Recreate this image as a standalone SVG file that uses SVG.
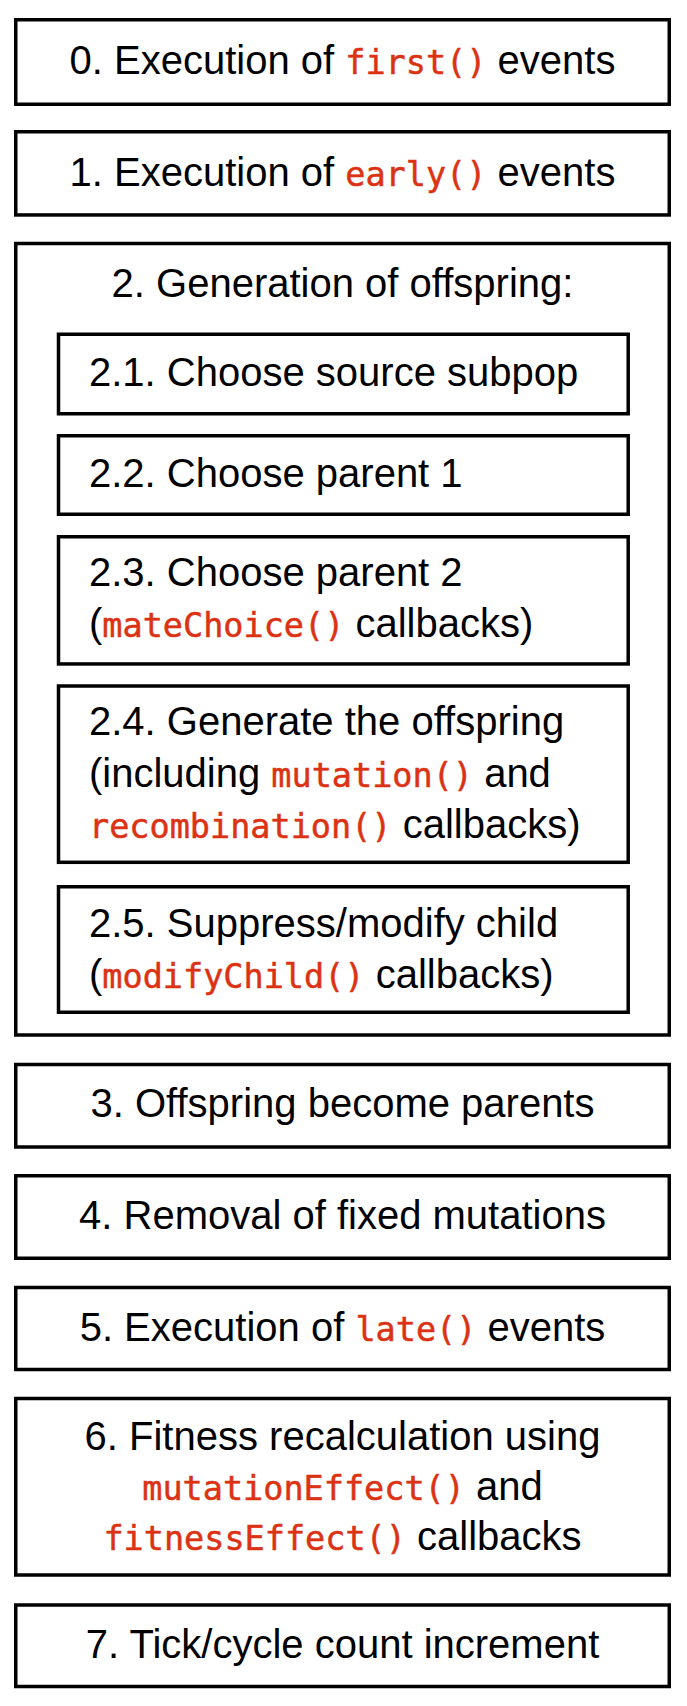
<svg xmlns="http://www.w3.org/2000/svg" width="687" height="1706" viewBox="0 0 687 1706">
<style>
.box{fill:#fff;stroke:#000;stroke-width:3.5}
.t{font-family:"Liberation Sans",Arial,sans-serif;font-size:40px;fill:#000}
.m{text-anchor:middle}
.c{font-family:"DejaVu Sans Mono","Liberation Mono",monospace;font-size:33.5px;fill:#dc3214;stroke:#dc3214;stroke-width:0.5}
</style>
<rect x="0" y="0" width="687" height="1706" fill="#fff"/>
<g id="step0">
<rect class="box" x="15.75" y="19.75" width="653.5" height="84.5"/>
<text class="t m" x="342.5" y="74">0. Execution of <tspan class="c">first()</tspan> events</text>
</g>
<g id="step1">
<rect class="box" x="15.75" y="131.75" width="653.5" height="83.2"/>
<text class="t m" x="342.5" y="185.7">1. Execution of <tspan class="c">early()</tspan> events</text>
</g>
<g id="step2">
<rect class="box" x="15.75" y="243.5" width="653.5" height="791.5"/>
<text class="t m" x="342.5" y="296.7">2. Generation of offspring:</text>
<g id="step2-1">
<rect class="box" x="58.5" y="334.25" width="569.7" height="79.5"/>
<text class="t" x="89" y="386">2.1. Choose source subpop</text>
</g>
<g id="step2-2">
<rect class="box" x="58.5" y="435.75" width="569.7" height="78.5"/>
<text class="t" x="89" y="487.3">2.2. Choose parent 1</text>
</g>
<g id="step2-3">
<rect class="box" x="58.5" y="536.75" width="569.7" height="127.2"/>
<text class="t" x="89" y="586">2.3. Choose parent 2</text>
<text class="t" x="89" y="637.3">(<tspan class="c">mateChoice()</tspan> callbacks)</text>
</g>
<g id="step2-4">
<rect class="box" x="58.5" y="686" width="569.7" height="176.3"/>
<text class="t" x="89" y="735">2.4. Generate the offspring</text>
<text class="t" x="89" y="786.7">(including <tspan class="c">mutation()</tspan> and</text>
<text class="t" x="89" y="838.3"><tspan class="c">recombination()</tspan> callbacks)</text>
</g>
<g id="step2-5">
<rect class="box" x="58.5" y="886.75" width="569.7" height="125.5"/>
<text class="t" x="89" y="936.7">2.5. Suppress/modify child</text>
<text class="t" x="89" y="987.7">(<tspan class="c">modifyChild()</tspan> callbacks)</text>
</g>
</g>
<g id="step3">
<rect class="box" x="15.75" y="1064.5" width="653.5" height="82.5"/>
<text class="t m" x="342.5" y="1117.3">3. Offspring become parents</text>
</g>
<g id="step4">
<rect class="box" x="15.75" y="1175.75" width="653.5" height="82.5"/>
<text class="t m" x="342.5" y="1229.3">4. Removal of fixed mutations</text>
</g>
<g id="step5">
<rect class="box" x="15.75" y="1287.5" width="653.5" height="82"/>
<text class="t m" x="342.5" y="1340.7">5. Execution of <tspan class="c">late()</tspan> events</text>
</g>
<g id="step6">
<rect class="box" x="15.75" y="1398.5" width="653.5" height="176.5"/>
<text class="t m" x="342.5" y="1450">6. Fitness recalculation using</text>
<text class="t m" x="342.5" y="1500"><tspan class="c">mutationEffect()</tspan> and</text>
<text class="t m" x="342.5" y="1550"><tspan class="c">fitnessEffect()</tspan> callbacks</text>
</g>
<g id="step7">
<rect class="box" x="15.75" y="1605" width="653.5" height="81.5"/>
<text class="t m" x="342.5" y="1658.3">7. Tick/cycle count increment</text>
</g>
<g id="connectors"/>
</svg>
